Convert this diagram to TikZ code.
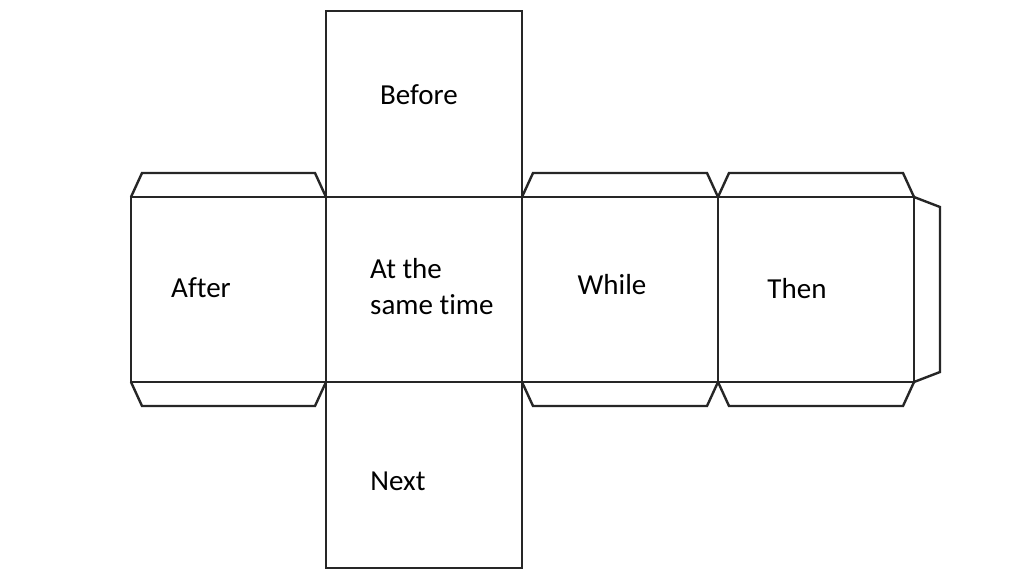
\documentclass[tikz,border=0pt]{standalone}
\usepackage{fontspec}
\setmainfont[Ligatures=NoCommon]{Carlito}
\begin{document}
\begin{tikzpicture}[x=1pt,y=-1pt,
  edge/.style={line width=2.4pt,line join=miter,black!85},
  lbl/.style={font=\fontsize{29}{36}\selectfont,inner sep=0pt,align=left}]
\useasboundingbox[fill=white] (0,0) rectangle (1024,576);
% top and bottom squares
\draw[edge] (326,11) rectangle (522,197);
\draw[edge] (326,382) rectangle (522,568);
% middle row
\draw[edge] (131,197) rectangle (914,382);
\foreach \x in {326,522,718} \draw[edge] (\x,197) -- (\x,382);
% flaps above and below the side squares
\foreach \a/\b in {131/326,522/718,718/914}{
  \draw[edge] (\a,197) -- (\a+11,173) -- (\b-11,173) -- (\b,197);
  \draw[edge] (\a,382) -- (\a+11,406) -- (\b-11,406) -- (\b,382);
}
% right flap
\draw[edge] (914,197) -- (940,207) -- (940,372) -- (914,382);
% labels
\node[lbl,anchor=base] (before) at (419,104) {Before};
\node[lbl,anchor=north west] (same) at (370,258) {At the\\same time};
\node[lbl,anchor=base] (after) at (201,297) {After};
\node[lbl,anchor=base] (while) at (612,294) {While};
\node[lbl,anchor=base] (then) at (797,298) {Then};
\node[lbl,anchor=base] (next) at (398,490) {Next};
\end{tikzpicture}
\end{document}
